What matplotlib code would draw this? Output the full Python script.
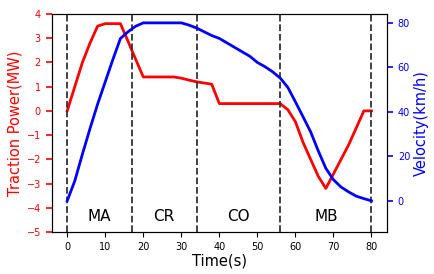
import matplotlib
matplotlib.use("Agg")
import matplotlib.pyplot as plt

time_power = [0, 2, 4, 6, 8, 10, 12, 14, 16, 18, 20, 22, 24, 26, 28, 30, 32, 34, 36, 38, 40,
              42, 44, 46, 48, 50, 52, 54, 56, 58, 60, 62, 64, 66, 68, 70, 72, 74, 76, 78, 80]
power = [0.0, 1.0, 2.0, 2.8, 3.5, 3.6, 3.6, 3.6, 2.87, 2.13, 1.4, 1.4, 1.4, 1.4, 1.4, 1.35, 1.27, 1.2, 1.15, 1.1, 0.3,
         0.3, 0.3, 0.3, 0.3, 0.3, 0.3, 0.3, 0.3, 0.05, -0.45, -1.3, -2.0, -2.7, -3.2, -2.6, -2.0, -1.4, -0.7, 0.0, 0.0]

time_vel = [0, 2, 4, 6, 8, 10, 12, 14, 16, 18, 20, 22, 24, 26, 28, 30, 32, 34, 36, 38, 40,
            42, 44, 46, 48, 50, 52, 54, 56, 58, 60, 62, 64, 66, 68, 70, 72, 74, 76, 78, 80]
velocity = [0, 9, 21, 32.5, 43.5, 53.5, 63.5, 73, 76, 78.5, 80, 80, 80, 80, 80, 80, 79, 77.7, 76, 74.3, 73,
            71, 69, 67, 65, 62.2, 60.3, 58, 55.2, 51, 44.5, 37.8, 31, 22.5, 14.6, 9.5, 6.2, 4, 2.1, 1, 0]

phase_bounds = [0, 17, 34, 56, 80]
phase_labels = ["MA", "CR", "CO", "MB"]

fig = plt.figure(figsize=(4.35, 2.74), dpi=100)
ax = fig.add_axes([0.1195, 0.1533, 0.7695, 0.7957])
ax.plot(time_power, power, color="red", lw=2)
ax.set_ylim(-5, 4)
ax.set_xlim(-4, 84)
ax.set_yticks(range(-5, 5))
ax.tick_params(axis="y", colors="red", labelsize=7, length=4.5, width=1.2)
ax.tick_params(axis="x", labelsize=7)
ax.set_ylabel("Traction Power(MW)", color="red", fontsize=10.5, labelpad=3)
ax.set_xlabel("Time(s)", fontsize=10.5, labelpad=1)

for b in phase_bounds:
    ax.axvline(b, color="#333333", ls="--", lw=1.3)

for i, lab in enumerate(phase_labels):
    ax.text((phase_bounds[i] + phase_bounds[i + 1]) / 2, -4.35, lab,
            ha="center", va="center", fontsize=11)

ax2 = ax.twinx()
ax2.plot(time_vel, velocity, color="blue", lw=2)
ax2.set_ylim(-14, 84)
ax2.set_yticks([0, 20, 40, 60, 80])
ax2.tick_params(axis="y", colors="blue", labelsize=7, length=4.5, width=1.2)
ax2.set_ylabel("Velocity(km/h)", color="blue", fontsize=10.5, labelpad=3)

fig.savefig("out.png", dpi=100)
